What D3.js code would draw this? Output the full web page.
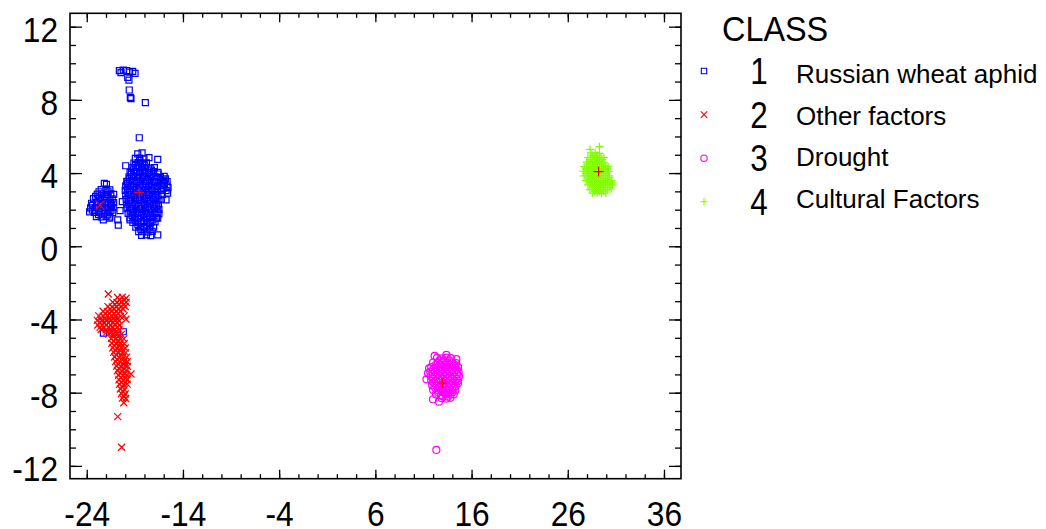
<!DOCTYPE html>
<html>
<head>
<meta charset="utf-8">
<script src="https://cdn.jsdelivr.net/npm/d3@7"></script>
<style>
  body { margin: 0; background: #fff; }
  svg { display: block; font-family: "Liberation Sans", Arial, sans-serif; }
</style>
</head>
<body>
<script>
// tick labels
const xTicks = [-24, -14, -4, 6, 16, 26, 36];
const yTicks = [-12, -8, -4, 0, 4, 8, 12];

// legend
const classIds = ["1", "2", "3", "4"];
const classNames = ["Russian wheat aphid", "Other factors", "Drought", "Cultural Factors"];

// class 1 - Russian wheat aphid
const class1 = [
  // stragglers at the top
  [-20.61,9.60],[-20.44,9.49],[-20.2,9.62],[-19.85,9.60],[-19.55,9.52],[-19.22,9.56],[-18.98,9.45],
  [-19.74,9.23],[-19.61,9.08],[-19.58,8.54],[-19.47,8.14],[-19.40,8.07],[-17.91,7.85],[-18.54,5.93],
  // left group
  [-22.17,3.44],[-21.95,3.38],
  [-22.5,3.1],[-22.0,3.12],[-21.6,3.08],
  [-22.9,2.85],[-22.45,2.87],[-21.95,2.83],[-21.5,2.86],[-21.2,2.84],
  [-23.3,2.6],[-22.8,2.62],[-22.3,2.58],[-21.8,2.61],[-21.35,2.59],
  [-23.5,2.35],[-23.0,2.37],[-22.5,2.33],[-22.0,2.36],[-21.5,2.34],[-21.2,2.38],
  [-23.6,2.1],[-23.1,2.12],[-22.6,2.08],[-22.1,2.11],[-21.6,2.09],[-21.25,2.13],
  [-23.7,1.88],[-23.2,1.85],[-22.7,1.87],[-22.2,1.83],[-21.7,1.86],[-21.3,1.84],
  [-23.0,1.62],[-22.5,1.6],[-22.0,1.63],[-21.6,1.59],[-22.28,1.44],[-21.65,1.53],
  // main group
  [-18.7,5.05],[-18.25,5.1],
  [-18.95,4.8],[-18.5,4.82],[-18.05,4.78],
  [-19.1,4.55],[-18.65,4.57],[-18.2,4.52],[-17.8,4.56],
  [-19.2,4.3],[-18.75,4.32],[-18.3,4.28],[-17.85,4.31],[-17.4,4.27],
  [-19.35,4.05],[-18.9,4.07],[-18.45,4.03],[-18.0,4.06],[-17.5,4.02],[-17.05,4.08],[-16.6,4.04],
  [-19.6,3.8],[-19.15,3.82],[-18.7,3.78],[-18.2,3.81],[-17.75,3.79],[-17.3,3.83],[-16.8,3.8],[-16.35,3.77],[-15.95,3.82],
  [-19.8,3.55],[-19.3,3.57],[-18.85,3.53],[-18.4,3.56],[-17.9,3.54],[-17.45,3.58],[-16.95,3.55],[-16.5,3.52],[-16.05,3.57],[-15.65,3.54],
  [-19.95,3.3],[-19.5,3.32],[-19.0,3.28],[-18.55,3.31],[-18.05,3.29],[-17.6,3.33],[-17.1,3.3],[-16.65,3.27],[-16.15,3.32],[-15.65,3.29],
  [-20.0,3.05],[-19.55,3.07],[-19.1,3.03],[-18.6,3.06],[-18.15,3.04],[-17.65,3.08],[-17.2,3.05],[-16.7,3.02],[-16.25,3.07],[-15.75,3.04],
  [-19.95,2.8],[-19.5,2.82],[-19.0,2.78],[-18.55,2.81],[-18.05,2.79],[-17.6,2.83],[-17.1,2.8],[-16.6,2.77],[-16.15,2.82],
  [-19.9,2.55],[-19.45,2.57],[-18.95,2.53],[-18.5,2.56],[-18.0,2.54],[-17.55,2.58],[-17.05,2.55],[-16.6,2.52],[-16.25,2.57],
  [-19.85,2.3],[-19.4,2.32],[-18.9,2.28],[-18.45,2.31],[-17.95,2.29],[-17.5,2.33],[-17.0,2.3],[-16.55,2.27],
  [-19.8,2.05],[-19.35,2.07],[-18.85,2.03],[-18.4,2.06],[-17.9,2.04],[-17.45,2.08],[-16.95,2.05],[-16.5,2.02],
  [-19.7,1.8],[-19.25,1.82],[-18.75,1.78],[-18.3,1.81],[-17.8,1.79],[-17.35,1.83],[-16.9,1.8],[-16.5,1.77],
  [-19.5,1.55],[-19.05,1.57],[-18.6,1.53],[-18.1,1.56],[-17.65,1.54],[-17.2,1.58],[-16.75,1.55],
  [-19.2,1.3],[-18.75,1.32],[-18.3,1.28],[-17.8,1.31],[-17.35,1.29],[-16.9,1.33],
  [-18.9,1.05],[-18.45,1.07],[-18.0,1.03],[-17.5,1.06],[-17.05,1.04],
  [-18.6,0.8],[-18.15,0.82],[-17.65,0.78],[-17.2,0.81],
  [-18.3,0.6],[-17.8,0.62],[-17.35,0.58],
  // second pass over the dense part, offset
  [-18.48,4.68],[-18.92,4.42],[-18.02,4.43],[-19.12,4.18],[-18.22,4.17],[-17.28,4.16],
  [-19.38,3.93],[-18.48,3.94],[-17.52,3.92],[-16.58,3.95],[-19.58,3.68],[-18.62,3.69],
  [-17.68,3.66],[-16.72,3.67],[-15.82,3.68],[-19.72,3.43],[-18.78,3.44],[-17.82,3.42],
  [-16.88,3.45],[-15.92,3.43],[-19.78,3.18],[-18.82,3.17],[-17.88,3.19],[-16.92,3.16],
  [-15.98,3.18],[-19.72,2.93],[-18.78,2.92],[-17.82,2.94],[-16.88,2.91],[-19.68,2.68],
  [-18.72,2.67],[-17.78,2.69],[-16.82,2.66],[-19.62,2.43],[-18.68,2.42],[-17.72,2.44],
  [-16.78,2.41],[-19.58,2.18],[-18.62,2.17],[-17.68,2.19],[-16.72,2.16],[-19.48,1.93],
  [-18.52,1.92],[-17.58,1.94],[-16.68,1.91],[-19.28,1.68],[-18.32,1.67],[-17.42,1.69],
  [-18.98,1.43],[-18.08,1.42],[-17.12,1.44],[-18.68,1.18],[-17.78,1.17],[-18.38,0.93],[-17.42,0.92],
  [-22.72,2.98],[-21.78,2.97],[-23.08,2.73],[-22.08,2.72],[-21.58,2.48],[-22.58,2.47],
  [-23.38,2.23],[-22.38,2.22],[-21.42,2.23],[-23.42,1.98],[-22.42,1.97],[-21.48,1.96],
  [-22.78,1.73],[-21.82,1.72],
  // loose ones around the main group
  [-19.95,4.4],[-17.53,4.84],[-16.62,4.75],[-16.97,4.3],[-19.5,4.04],[-16.04,3.62],[-15.76,2.53],
  [-16.62,1.53],[-16.62,0.62],[-19.5,1.44],[-20.72,1.16],[-20.78,1.44],[-20.54,1.95],[-20.3,2.44],
  [-19.84,3.53],[-15.55,3.2],[-15.6,2.9],
  // two inside the class 2 cloud
  [-22.27,-4.75],[-20.2,-4.67]
];

// class 2 - Other factors
const class2 = [
  [-21.76,-2.61],
  [-20.8,-2.8],[-20.3,-2.78],[-19.9,-2.83],
  [-21.3,-3.05],[-20.85,-3.07],[-20.35,-3.03],[-19.9,-3.06],
  [-21.8,-3.3],[-21.35,-3.32],[-20.9,-3.28],[-20.45,-3.31],[-20.0,-3.29],
  [-22.3,-3.55],[-21.85,-3.57],[-21.4,-3.53],[-20.95,-3.56],[-20.5,-3.54],
  [-22.75,-3.8],[-22.3,-3.82],[-21.85,-3.78],[-21.4,-3.81],[-20.95,-3.79],[-20.5,-3.83],[-20.1,-3.8],
  [-22.9,-4.05],[-22.45,-4.07],[-22.0,-4.03],[-21.55,-4.06],[-21.1,-4.04],[-20.65,-4.08],[-19.92,-3.99],
  [-22.85,-4.3],[-22.4,-4.32],[-21.95,-4.28],[-21.5,-4.31],[-21.05,-4.29],[-20.6,-4.33],
  [-22.5,-4.55],[-22.0,-4.57],[-21.55,-4.53],[-21.1,-4.56],[-20.65,-4.54],
  [-21.7,-4.8],[-21.25,-4.82],[-20.8,-4.78],[-20.4,-4.81],
  [-21.45,-5.05],[-21.0,-5.07],[-20.55,-5.03],[-20.15,-5.06],
  [-21.4,-5.3],[-20.95,-5.32],[-20.5,-5.28],[-20.1,-5.31],
  [-21.3,-5.55],[-20.85,-5.57],[-20.4,-5.53],[-20.0,-5.56],
  [-21.2,-5.8],[-20.75,-5.82],[-20.3,-5.78],[-19.95,-5.81],
  [-21.1,-6.05],[-20.65,-6.07],[-20.2,-6.03],[-19.85,-6.06],
  [-21.0,-6.3],[-20.55,-6.32],[-20.1,-6.28],[-19.8,-6.31],
  [-20.9,-6.55],[-20.45,-6.57],[-20.0,-6.53],[-19.75,-6.56],
  [-20.8,-6.8],[-20.35,-6.82],[-19.9,-6.78],
  [-20.7,-7.05],[-20.25,-7.07],[-19.85,-7.03],[-19.4,-6.98],
  [-20.65,-7.3],[-20.2,-7.32],[-19.8,-7.28],
  [-20.6,-7.55],[-20.15,-7.57],[-19.8,-7.53],
  [-20.5,-7.8],[-20.1,-7.82],
  [-20.4,-8.05],[-20.0,-8.07],
  [-20.3,-8.3],[-19.95,-8.32],
  [-20.15,-8.55],
  // second pass over the dense part
  [-20.58,-2.93],[-20.12,-2.95],[-21.08,-3.18],[-20.62,-3.17],[-20.18,-3.19],
  [-21.58,-3.43],[-21.12,-3.42],[-20.68,-3.44],[-20.22,-3.43],[-22.08,-3.68],[-21.62,-3.67],
  [-21.18,-3.69],[-20.72,-3.68],[-22.52,-3.93],[-22.08,-3.92],[-21.62,-3.94],[-21.18,-3.93],
  [-20.82,-3.94],[-22.62,-4.18],[-22.18,-4.17],[-21.72,-4.19],[-21.28,-4.18],[-20.82,-4.18],
  [-22.62,-4.43],[-22.18,-4.42],[-21.72,-4.44],[-21.28,-4.43],[-20.82,-4.42],[-21.92,-4.68],
  [-21.48,-4.67],[-21.02,-4.69],[-21.22,-4.93],[-20.78,-4.94],[-21.18,-5.18],[-20.72,-5.19],
  [-21.12,-5.43],[-20.62,-5.42],[-21.02,-5.68],[-20.52,-5.69],[-20.92,-5.93],[-20.42,-5.94],
  [-20.82,-6.18],[-20.32,-6.19],[-20.72,-6.43],[-20.22,-6.44],[-20.62,-6.68],[-20.12,-6.69],
  [-20.48,-6.93],[-20.02,-6.94],[-20.42,-7.18],[-19.98,-7.19],[-20.38,-7.43],[-19.98,-7.44],
  [-20.32,-7.68],[-20.22,-7.93],[-20.12,-8.18],
  [-20.78,-9.31],[-20.37,-10.98]
];

// class 3 - Drought
const class3 = [
  [12.4,-6.1],[12.9,-6.12],[13.4,-6.08],[13.85,-6.11],
  [12.0,-6.35],[12.5,-6.37],[13.0,-6.33],[13.5,-6.36],[14.0,-6.34],[14.4,-6.38],
  [11.8,-6.6],[12.3,-6.62],[12.8,-6.58],[13.3,-6.61],[13.8,-6.59],[14.3,-6.63],[14.6,-6.6],
  [11.7,-6.85],[12.2,-6.87],[12.7,-6.83],[13.2,-6.86],[13.7,-6.84],[14.2,-6.88],[14.65,-6.85],
  [11.75,-7.1],[12.25,-7.12],[12.75,-7.08],[13.25,-7.11],[13.75,-7.09],[14.25,-7.13],[14.7,-7.1],
  [11.8,-7.35],[12.3,-7.37],[12.8,-7.33],[13.3,-7.36],[13.8,-7.34],[14.3,-7.38],[14.6,-7.35],
  [11.9,-7.6],[12.4,-7.62],[12.9,-7.58],[13.4,-7.61],[13.9,-7.59],[14.35,-7.63],
  [12.0,-7.85],[12.5,-7.87],[13.0,-7.83],[13.5,-7.86],[14.0,-7.84],[14.3,-7.88],
  [12.3,-8.1],[12.8,-8.12],[13.3,-8.08],[13.8,-8.11],[14.15,-8.09],
  [12.9,-8.3],[13.4,-8.32],[13.8,-8.28],
  // second pass
  [12.68,-6.23],[13.18,-6.22],[13.68,-6.24],[12.28,-6.48],[12.78,-6.47],[13.28,-6.49],
  [13.78,-6.48],[14.22,-6.47],[12.02,-6.73],[12.52,-6.72],[13.02,-6.74],[13.52,-6.73],
  [14.02,-6.72],[14.48,-6.74],[11.98,-6.98],[12.48,-6.97],[12.98,-6.99],[13.48,-6.98],
  [13.98,-6.97],[14.48,-6.99],[12.02,-7.23],[12.52,-7.22],[13.02,-7.24],[13.52,-7.23],
  [14.02,-7.22],[14.48,-7.24],[12.12,-7.48],[12.62,-7.47],[13.12,-7.49],[13.62,-7.48],
  [14.12,-7.47],[12.22,-7.73],[12.72,-7.72],[13.22,-7.74],[13.72,-7.73],[14.18,-7.72],
  [12.52,-7.98],[13.02,-7.97],[13.52,-7.99],[14.02,-7.98],[12.98,-8.2],[13.52,-8.21],
  [12.16,-5.99],[13.38,-5.93],[14.42,-6.17],[11.58,-6.67],[11.47,-6.94],[11.31,-7.27],
  [11.99,-8.36],[12.61,-8.49],[14.59,-7.49],
  [12.34,-11.13]
];

// class 4 - Cultural Factors
const class4 = [
  [28.32,5.30],[29.29,5.44],
  [28.4,5.1],[28.85,5.12],[29.3,5.08],
  [28.1,4.85],[28.55,4.87],[29.0,4.83],[29.45,4.86],[29.75,4.84],
  [27.95,4.6],[28.4,4.62],[28.85,4.58],[29.3,4.61],[29.75,4.59],
  [27.7,4.35],[28.15,4.37],[28.6,4.33],[29.05,4.36],[29.5,4.34],[29.95,4.38],[30.2,4.35],
  [27.6,4.1],[28.05,4.12],[28.5,4.08],[28.95,4.11],[29.4,4.09],[29.85,4.13],[30.25,4.1],
  [27.7,3.85],[28.15,3.87],[28.6,3.83],[29.05,3.86],[29.5,3.84],[29.95,3.88],[30.3,3.85],
  [27.9,3.6],[28.35,3.62],[28.8,3.58],[29.25,3.61],[29.7,3.59],[30.15,3.63],[30.55,3.6],
  [28.1,3.35],[28.55,3.37],[29.0,3.33],[29.45,3.36],[29.9,3.34],[30.35,3.38],[30.65,3.35],
  [28.3,3.1],[28.75,3.12],[29.2,3.08],[29.65,3.11],[30.1,3.09],[30.5,3.13],
  [28.6,2.9],[29.05,2.92],[29.5,2.88],[29.95,2.91],
  // second pass
  [28.62,4.98],[29.08,4.97],[28.32,4.73],[28.78,4.72],[29.22,4.74],[29.58,4.73],
  [28.18,4.48],[28.62,4.47],[29.08,4.49],[29.52,4.48],[27.92,4.23],[28.38,4.22],
  [28.82,4.24],[29.28,4.23],[29.72,4.22],[30.08,4.24],[27.88,3.98],[28.32,3.97],
  [28.78,3.99],[29.22,3.98],[29.68,3.97],[30.12,3.99],[28.08,3.73],[28.52,3.72],
  [28.98,3.74],[29.42,3.73],[29.88,3.72],[30.32,3.74],[28.32,3.48],[28.78,3.47],
  [29.22,3.49],[29.68,3.48],[30.12,3.47],[30.52,3.49],[28.52,3.23],[28.98,3.22],
  [29.42,3.24],[29.88,3.23],[30.32,3.22],[28.82,3.0],[29.28,2.99],[29.72,3.01]
];

// red centre marks
const centreTimes = [[-22.62, 2.25]];
const centrePlus = [[-18.54, 2.93], [12.97, -7.49], [29.2, 4.08]];

const width = 1046;
const height = 529;
const plot = { left: 70, right: 681, top: 13.3, bottom: 478.7 };

const svg = d3.select("body")
  .append("svg")
  .attr("width", width)
  .attr("height", height);

const x = d3.scaleLinear()
  .domain([-25.74, 37.77])
  .range([plot.left, plot.right]);

const y = d3.scaleLinear()
  .domain([-12.70, 12.73])
  .range([plot.bottom, plot.top]);

const xMinor = d3.range(-24, 37, 2);
const yMinor = d3.range(-12, 13, 1);

// plain hyphen for negatives, like the original
const label = d => String(d);

// marker shapes, size = half width
const square = { draw(c, r) { c.rect(-r, -r, 2 * r, 2 * r); } };
const times = { draw(c, r) { c.moveTo(-r, -r); c.lineTo(r, r); c.moveTo(r, -r); c.lineTo(-r, r); } };
const plus = { draw(c, r) { c.moveTo(-r, 0); c.lineTo(r, 0); c.moveTo(0, -r); c.lineTo(0, r); } };
const ring = { draw(c, r) { c.moveTo(r, 0); c.arc(0, 0, r, 0, 2 * Math.PI); } };

const series = [
  { data: class1, shape: square, r: 3, color: "#0000ff" },
  { data: class2, shape: times, r: 3.5, color: "#ff0000" },
  { data: class3, shape: ring, r: 3.5, color: "#ff00ff" },
  { data: class4, shape: plus, r: 4, color: "#80ff00" }
];

// axes, ticks pointing inwards on all four sides
function styleAxis(g) {
  g.select(".domain").remove();
  g.selectAll("line").attr("stroke-width", 1.3);
  g.attr("font-size", 36).attr("font-family", null);
}

svg.append("g")
  .attr("transform", `translate(0,${plot.bottom})`)
  .call(d3.axisBottom(x).tickValues(xTicks).tickSize(-9).tickPadding(21.5).tickFormat(label))
  .call(styleAxis)
  .call(g => g.selectAll("text").attr("transform", "scale(0.88,1)"));
svg.append("g")
  .attr("transform", `translate(0,${plot.bottom})`)
  .call(d3.axisBottom(x).tickValues(xMinor).tickSize(-4.5).tickFormat(""))
  .call(styleAxis);
svg.append("g")
  .attr("transform", `translate(0,${plot.top})`)
  .call(d3.axisTop(x).tickValues(xTicks).tickSize(-9).tickFormat(""))
  .call(styleAxis);
svg.append("g")
  .attr("transform", `translate(0,${plot.top})`)
  .call(d3.axisTop(x).tickValues(xMinor).tickSize(-4.5).tickFormat(""))
  .call(styleAxis);

svg.append("g")
  .attr("transform", `translate(${plot.left},0)`)
  .call(d3.axisLeft(y).tickValues(yTicks).tickSize(-12).tickPadding(13.6).tickFormat(label))
  .call(styleAxis)
  .call(g => g.selectAll("text").attr("dy", "0.4em").attr("transform", "scale(0.88,1)"));
svg.append("g")
  .attr("transform", `translate(${plot.left},0)`)
  .call(d3.axisLeft(y).tickValues(yMinor).tickSize(-6).tickFormat(""))
  .call(styleAxis);
svg.append("g")
  .attr("transform", `translate(${plot.right},0)`)
  .call(d3.axisRight(y).tickValues(yTicks).tickSize(-12).tickFormat(""))
  .call(styleAxis);
svg.append("g")
  .attr("transform", `translate(${plot.right},0)`)
  .call(d3.axisRight(y).tickValues(yMinor).tickSize(-6).tickFormat(""))
  .call(styleAxis);

// frame
svg.append("rect")
  .attr("x", plot.left)
  .attr("y", plot.top)
  .attr("width", plot.right - plot.left)
  .attr("height", plot.bottom - plot.top)
  .attr("fill", "none")
  .attr("stroke", "#000")
  .attr("stroke-width", 1.6);

// points
series.forEach(s => {
  svg.append("g")
    .selectAll("path")
    .data(s.data)
    .join("path")
      .attr("transform", d => `translate(${x(d[0])},${y(d[1])})`)
      .attr("d", d3.symbol(s.shape, s.r))
      .attr("fill", "none")
      .attr("stroke", s.color)
      .attr("stroke-width", 1.2);
});

svg.append("g")
  .selectAll("path")
  .data(centreTimes)
  .join("path")
    .attr("transform", d => `translate(${x(d[0])},${y(d[1])})`)
    .attr("d", d3.symbol(times, 4.5))
    .attr("stroke", "#ff0000")
    .attr("stroke-width", 1.2);

svg.append("g")
  .selectAll("path")
  .data(centrePlus)
  .join("path")
    .attr("transform", d => `translate(${x(d[0])},${y(d[1])})`)
    .attr("d", d3.symbol(plus, 5))
    .attr("stroke", "#ff0000")
    .attr("stroke-width", 1.2);

// legend
const legend = svg.append("g");

legend.append("text")
  .attr("transform", "translate(722,41) scale(0.9,1)")
  .attr("font-size", 36)
  .text("CLASS");

const rows = legend.selectAll("g.row")
  .data(series)
  .join("g")
    .attr("class", "row");

rows.append("path")
  .attr("transform", (d, i) => `translate(704,${71 + i * 43.6})`)
  .attr("d", d => d3.symbol(d.shape, d.r - 0.3)())
  .attr("fill", "none")
  .attr("stroke", d => d.color)
  .attr("stroke-width", 1.1);

rows.append("text")
  .attr("transform", (d, i) => `translate(759,${84 + i * 43.6}) scale(0.85,1)`)
  .attr("text-anchor", "middle")
  .attr("font-size", 37)
  .text((d, i) => classIds[i]);

rows.append("text")
  .attr("x", 796)
  .attr("y", (d, i) => 83 + i * 41.7)
  .attr("font-size", 26)
  .text((d, i) => classNames[i]);
</script>
</body>
</html>
